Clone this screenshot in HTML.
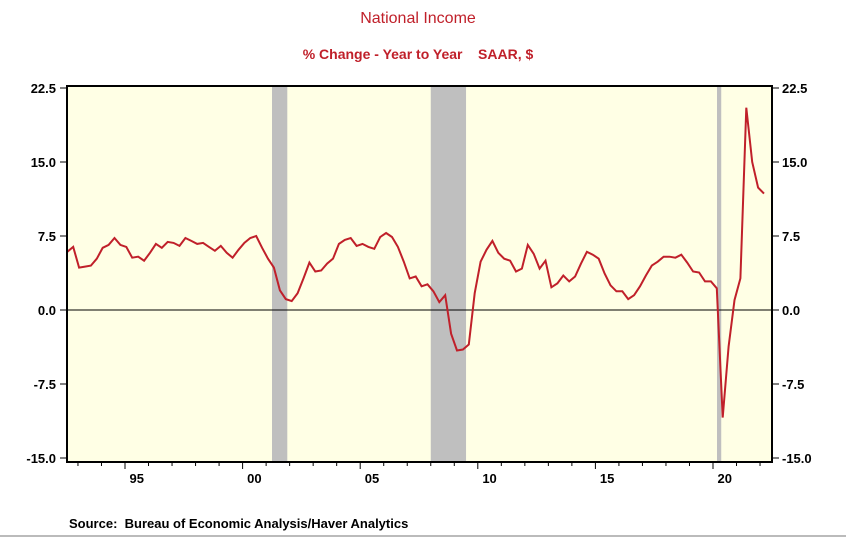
<!DOCTYPE html>
<html><head><meta charset="utf-8"><style>
html,body{margin:0;padding:0;background:#fff;}
svg{display:block;font-family:"Liberation Sans",Arial,sans-serif;}
</style></head><body>
<svg id="chart" width="846" height="539">
<text x="418" y="23" text-anchor="middle" fill="#c0202a" font-size="16">National Income</text>
<text x="418" y="59" text-anchor="middle" fill="#c0202a" font-size="14" font-weight="bold">% Change - Year to Year&#160;&#160;&#160; SAAR, $</text>
<rect x="67" y="86" width="705" height="376" fill="#ffffe5"/>
<g id="rec"></g>
<g id="grid"></g>
<polyline id="line" fill="none" stroke="#c0202a" stroke-width="2"/>
<rect x="67" y="86" width="705" height="376" fill="none" stroke="#000" stroke-width="2"/>
<text x="69" y="528" font-size="13" font-weight="bold" fill="#000">Source:&#160; Bureau of Economic Analysis/Haver Analytics</text>
<line x1="0" y1="536" x2="846" y2="536" stroke="#bbb" stroke-width="2"/>
</svg>
<script>
const values = [5.9,6.4,4.3,4.4,4.5,5.2,6.3,6.6,7.3,6.6,6.4,5.3,5.4,5.0,5.8,6.7,6.3,6.9,6.8,6.5,7.3,7.0,6.7,6.8,6.4,6.0,6.5,5.8,5.3,6.1,6.8,7.3,7.5,6.3,5.2,4.3,2.0,1.1,0.9,1.7,3.2,4.8,3.9,
4.0,4.7,5.2,6.7,7.1,7.3,6.5,6.7,6.4,6.2,7.4,7.8,7.4,6.4,4.9,3.2,3.4,2.4,2.6,1.9,0.8,1.5,-2.4,-4.1,-4.0,-3.5,1.7,4.9,6.1,7.0,5.8,5.2,5.0,3.9,
4.2,6.6,5.7,4.2,5.0,2.3,2.7,3.5,2.9,3.4,4.7,5.9,5.6,5.2,3.7,2.5,1.9,1.9,1.1,1.5,2.4,3.5,4.5,4.9,5.4,5.4,5.3,5.6,4.8,3.9,3.8,2.9,2.9,2.2,
-10.9,-3.7,1.0,3.2,20.5,15.0,12.4,11.8];
const yTicks = [22.5,15.0,7.5,0.0,-7.5,-15.0];
const yearLabels = ["95","00","05","10","15","20"];
const labelYears = [1995,2000,2005,2010,2015,2020];
const recStarts = [2001.25,2008.0,2020.17];
const recEnds = [2001.9,2009.5,2020.35];
const NS="http://www.w3.org/2000/svg";
function x(t){return 125+(t-1995)*23.52;}
function xi(i){return 67.3+i*(764-67.3)/(values.length-1);}
function y(v){return 310-v*9.867;}
function mk(tag,attrs,parent){const e=document.createElementNS(NS,tag);for(const k in attrs)e.setAttribute(k,attrs[k]);parent.appendChild(e);return e;}
const rec=document.getElementById('rec'), g=document.getElementById('grid');
for(let i=0;i<recStarts.length;i++){
  const r=mk('rect',{x:x(recStarts[i]),y:86,width:x(recEnds[i])-x(recStarts[i]),height:376,fill:'#bfbfbf'},rec);
  
  
}
const z=mk('line',{x1:67,x2:772,y1:y(0),y2:y(0),stroke:'#000','stroke-width':1},g);


yTicks.forEach(v=>{
  mk('line',{x1:60,x2:67,y1:y(v),y2:y(v),stroke:'#000'},g);
  mk('line',{x1:772,x2:779,y1:y(v),y2:y(v),stroke:'#000'},g);
  const l=mk('text',{x:56,y:y(v)+5,'text-anchor':'end','font-size':13,'font-weight':'bold'},g);
  l.textContent=v.toFixed(1);
  
  
  const r=mk('text',{x:782,y:y(v)+5,'font-size':13,'font-weight':'bold'},g);
  r.textContent=v.toFixed(1);
  
  
});
for(let yr=1993;yr<=2022;yr++){
  const major=yr%5===0;
  mk('line',{x1:x(yr),x2:x(yr),y1:462,y2:major?469:466,stroke:'#000'},g);
}
labelYears.forEach((yr,i)=>{
  const t=mk('text',{x:x(yr+0.5),y:483,'text-anchor':'middle','font-size':13,'font-weight':'bold'},g);
  t.textContent=yearLabels[i];
  
  
});
document.getElementById('line').setAttribute('points',values.map((v,i)=>xi(i).toFixed(1)+','+y(v).toFixed(1)).join(' '));
</script>
</body></html>
